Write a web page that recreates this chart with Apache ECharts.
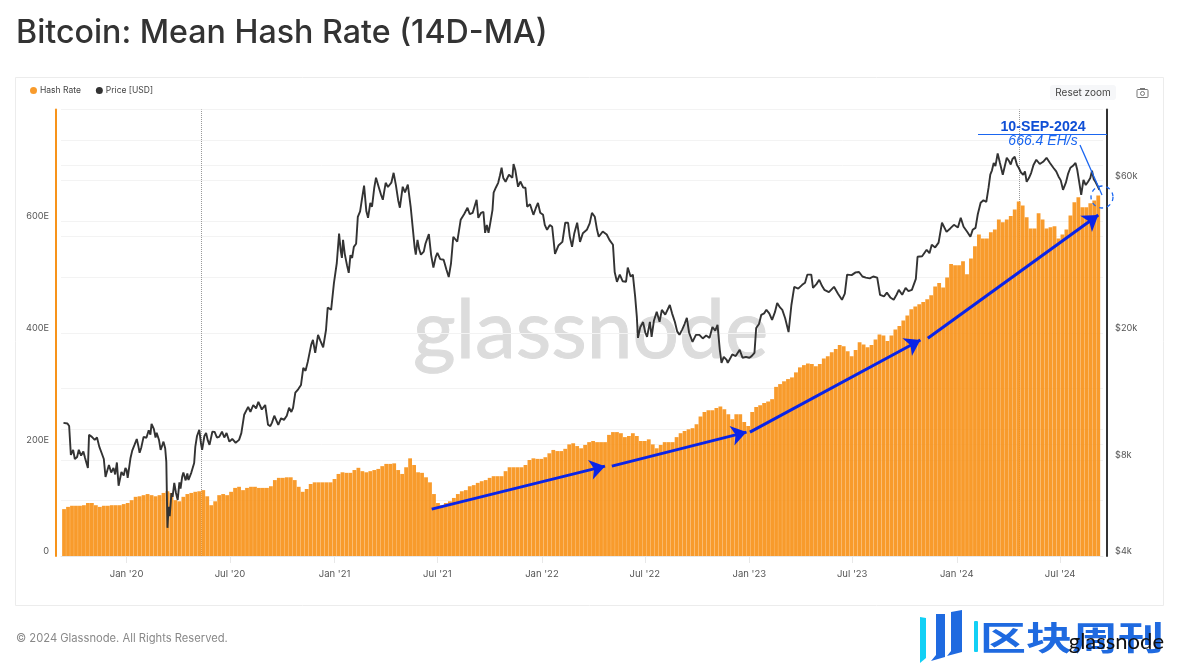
<!DOCTYPE html>
<html>
<head>
<meta charset="utf-8">
<title>Bitcoin: Mean Hash Rate (14D-MA)</title>
<script src="https://cdn.jsdelivr.net/npm/echarts@6/dist/echarts.min.js"></script>
<style>
  html, body { margin: 0; padding: 0; background: #fff; }
  #chart { width: 1189px; height: 669px; }
</style>
</head>
<body>
<div id="chart"></div>
<script>
const rangeStart = '2019-09-11'
const rangeEnd = '2024-09-11'

// weekly hash rate in EH/s, first bar on hashStart
const hashStart = '2019-09-13'
const hashRate = [
  84, 88, 90, 90, 90, 91, 95, 95, 91, 88, 90, 90, 91, 91, 91, 93, 95, 100, 106, 107,
  109, 111, 109, 107, 109, 113, 116, 113, 100, 98, 106, 111, 113, 115, 116, 118, 107, 91, 98, 109,
  111, 109, 115, 122, 124, 118, 122, 124, 124, 122, 122, 122, 125, 136, 140, 140, 141, 141, 136, 124,
  115, 120, 129, 132, 132, 132, 132, 132, 138, 147, 150, 149, 149, 154, 158, 152, 150, 152, 154, 156,
  161, 165, 165, 166, 154, 147, 159, 175, 163, 150, 149, 141, 132, 111, 95, 91, 95, 98, 104, 111,
  116, 118, 125, 127, 131, 134, 136, 140, 143, 143, 143, 152, 159, 159, 159, 159, 163, 172, 175, 174,
  174, 177, 184, 190, 188, 188, 192, 200, 202, 197, 193, 199, 204, 206, 204, 204, 204, 217, 222, 222,
  220, 213, 215, 220, 215, 206, 206, 209, 200, 193, 199, 204, 204, 204, 213, 220, 224, 227, 229, 236,
  250, 258, 261, 261, 265, 268, 263, 254, 245, 254, 254, 240, 233, 258, 267, 270, 274, 277, 281, 303,
  308, 313, 317, 320, 329, 338, 342, 345, 344, 340, 344, 354, 358, 365, 371, 378, 376, 367, 358, 369,
  383, 379, 374, 378, 388, 397, 395, 385, 395, 406, 412, 422, 431, 442, 447, 451, 455, 460, 467, 483,
  489, 481, 499, 523, 521, 521, 528, 505, 533, 555, 576, 569, 569, 580, 585, 603, 598, 603, 609, 621,
  635, 628, 607, 587, 587, 614, 603, 587, 589, 591, 569, 576, 585, 610, 634, 643, 625, 625, 632, 637,
  646
]

// price readings: [days since rangeStart, USD]
const pricePoints = [
  [1, 10440], [8, 10400], [11, 10210], [14, 8290], [18, 8600], [21, 8050], [25, 8170], [28, 8600], [32, 8250], [36, 8500],
  [39, 8110], [44, 7550], [46, 9580], [51, 9440], [56, 9240], [60, 9400], [64, 8800], [68, 8420], [72, 8050], [75, 7070],
  [78, 7400], [81, 7710], [85, 7300], [89, 7550], [92, 7200], [95, 7850], [98, 6640], [103, 7330], [107, 7150], [110, 7550],
  [112, 7440], [114, 7020], [119, 8110], [122, 8550], [126, 8910], [130, 9300], [133, 8800], [135, 8420], [138, 8750], [142, 9440],
  [147, 9380], [151, 9900], [154, 9600], [156, 10370], [160, 10000], [163, 9400], [165, 9720], [169, 9250], [172, 8600], [175, 8900],
  [177, 9120], [180, 8700], [182, 7880], [184, 4900], [186, 5700], [188, 5330], [191, 6300], [193, 6130], [196, 6780], [199, 6300],
  [202, 5990], [205, 6800], [207, 6500], [210, 7100], [212, 7300], [216, 6900], [219, 7250], [221, 6920], [226, 7300], [231, 7820],
  [233, 8780], [236, 9500], [240, 9930], [243, 9000], [245, 8600], [249, 9500], [252, 9710], [255, 9200], [258, 8910], [263, 9800],
  [267, 9790], [271, 9400], [275, 9440], [280, 9800], [284, 9400], [288, 9710], [293, 9120], [298, 9300], [304, 9050], [310, 9240],
  [314, 9700], [319, 11070], [322, 11000], [326, 11720], [330, 11300], [335, 11880], [340, 11600], [344, 12150], [350, 11500], [356, 11880],
  [361, 10300], [365, 10200], [368, 10460], [372, 11000], [375, 11070], [379, 10300], [384, 10800], [389, 10670], [394, 11000], [398, 11640],
  [402, 11300], [405, 11640], [409, 12980], [414, 13300], [419, 13730], [423, 15530], [427, 15200], [431, 16240], [437, 18360], [440, 19000],
  [444, 17300], [449, 19700], [453, 18900], [458, 18000], [463, 20400], [466, 24000], [472, 23600], [477, 28650], [482, 33070], [486, 40900],
  [489, 36000], [491, 34300], [493, 39090], [496, 35330], [500, 32500], [503, 30800], [506, 35000], [509, 34300], [512, 37160], [516, 38000],
  [519, 46150], [523, 48000], [526, 52000], [530, 57730], [534, 48000], [537, 45800], [541, 51000], [544, 49600], [548, 57000], [551, 61170],
  [556, 57000], [560, 54000], [563, 52160], [568, 58950], [572, 57200], [575, 56870], [578, 59000], [582, 63350], [586, 58000], [590, 52000],
  [593, 49250], [598, 57300], [602, 55000], [607, 58150], [612, 49600], [616, 42000], [619, 37000], [621, 35100], [624, 39090], [627, 36500],
  [630, 35100], [635, 35900], [638, 38000], [644, 40700], [648, 35000], [652, 32000], [656, 34500], [659, 35600], [664, 34000], [670, 33840],
  [675, 31500], [679, 29900], [683, 33000], [687, 39950], [694, 38550], [700, 45160], [706, 47000], [712, 49250], [716, 47000], [721, 47450],
  [728, 52160], [731, 45800], [736, 47500], [740, 47850], [743, 41100], [746, 43500], [749, 41100], [752, 44000], [756, 48530], [758, 54900],
  [762, 57000], [766, 58950], [769, 62000], [772, 65700], [775, 61000], [779, 59400], [785, 62500], [791, 61170], [793, 67500], [796, 64760],
  [801, 57300], [805, 59500], [810, 57000], [814, 56870], [817, 49600], [822, 50500], [828, 46800], [832, 49000], [836, 51000], [840, 47500],
  [845, 46800], [848, 43500], [852, 42000], [857, 43500], [861, 42950], [866, 35330], [872, 37500], [879, 38500], [884, 44200], [889, 44200],
  [892, 40000], [896, 37160], [900, 41000], [905, 44200], [910, 38500], [915, 41000], [922, 42010], [927, 44000], [931, 47450], [936, 46150],
  [940, 42000], [943, 39950], [950, 41500], [957, 40600], [962, 39000], [968, 37700], [971, 31000], [975, 28880], [980, 30400], [985, 29000],
  [991, 28880], [994, 32000], [999, 30000], [1003, 30400], [1007, 26000], [1010, 22430], [1012, 19280], [1016, 20800], [1021, 21600], [1025, 20000],
  [1028, 19420], [1033, 21640], [1036, 19420], [1040, 21800], [1045, 23250], [1050, 21640], [1054, 23590], [1060, 22800], [1068, 24430], [1072, 23000],
  [1077, 21600], [1081, 20200], [1085, 19700], [1090, 20500], [1094, 21300], [1098, 22270], [1102, 20000], [1108, 18730], [1114, 19700], [1120, 19700],
  [1126, 19200], [1132, 19600], [1138, 19280], [1143, 20850], [1148, 20300], [1152, 21170], [1156, 17680], [1159, 16100], [1163, 16800], [1168, 16450],
  [1170, 16100], [1178, 17100], [1184, 16900], [1191, 17680], [1196, 16700], [1202, 16800], [1208, 16700], [1212, 16900], [1217, 17300], [1220, 20700],
  [1225, 21300], [1229, 22760], [1234, 23000], [1238, 23590], [1243, 23000], [1248, 21950], [1253, 23200], [1257, 24800], [1262, 24000], [1266, 23590],
  [1271, 22200], [1277, 20100], [1282, 24430], [1287, 27850], [1294, 27500], [1301, 28250], [1306, 28700], [1310, 30400], [1317, 30400], [1320, 27650],
  [1326, 28400], [1331, 29300], [1336, 28000], [1340, 27250], [1348, 26800], [1357, 27850], [1364, 26500], [1371, 25360], [1376, 26500], [1380, 30400],
  [1388, 30300], [1395, 30900], [1401, 31000], [1407, 30000], [1413, 29750], [1420, 29600], [1426, 30000], [1433, 29750], [1438, 26300], [1445, 26000],
  [1450, 26700], [1456, 25800], [1462, 25360], [1467, 26300], [1471, 27250], [1477, 26300], [1483, 27650], [1488, 27000], [1494, 27250], [1501, 29500],
  [1504, 34600], [1512, 34700], [1520, 36370], [1525, 35500], [1529, 37700], [1535, 37000], [1541, 38300], [1547, 44200], [1555, 41400], [1562, 42500],
  [1568, 43550], [1575, 42700], [1580, 45800], [1585, 42950], [1591, 41500], [1597, 39950], [1601, 42000], [1606, 42600], [1610, 47000], [1615, 51050],
  [1620, 52000], [1625, 51400], [1629, 57000], [1632, 62500], [1635, 64500], [1638, 68000], [1641, 66500], [1645, 72900], [1649, 68000], [1654, 62500],
  [1658, 67000], [1661, 70600], [1665, 69000], [1668, 67250], [1671, 70000], [1675, 71100], [1679, 67000], [1682, 65700], [1686, 63500], [1690, 62500],
  [1693, 64000], [1696, 59400], [1700, 61000], [1704, 63350], [1708, 67000], [1713, 69600], [1719, 67500], [1725, 68600], [1731, 70600], [1737, 68000],
  [1743, 65700], [1748, 64000], [1752, 61700], [1756, 60000], [1760, 56060], [1765, 59000], [1769, 63000], [1773, 65700], [1777, 66500], [1782, 68000],
  [1785, 64760], [1788, 60000], [1792, 54050], [1796, 60250], [1800, 58000], [1804, 59400], [1808, 61000], [1811, 64300], [1814, 60500], [1817, 59400],
  [1821, 57500], [1824, 56060]
]

const xTickDates = ['2020-01-01', '2020-07-01', '2021-01-01', '2021-07-01', '2022-01-01', '2022-07-01', '2023-01-01', '2023-07-01', '2024-01-01', '2024-07-01']
const hashTicks = [0, 200, 400, 600]
const priceTicks = [4000, 8000, 20000, 60000]
const priceGrid = [4000, 6000, 8000, 10000, 20000, 40000, 60000, 80000, 100000]
const halvings = ['2020-05-11', '2024-04-20']

// start date, start EH/s, end date, end EH/s
const arrows = [
  ['2021-06-21', 84, '2022-04-22', 161],
  ['2022-05-04', 161, '2022-12-27', 222],
  ['2023-01-02', 222, '2023-10-29', 387],
  ['2023-11-11', 390, '2024-09-06', 611],
]

const DAY = 86400000
const toTime = (s) => +new Date(s + 'T00:00:00Z')
const hashData = hashRate.map((v, i) => [toTime(hashStart) + i * 7 * DAY, v])
const priceData = pricePoints.map((p) => [toTime(rangeStart) + p[0] * DAY, p[1]])
const xTicks = xTickDates.map(toTime)

const ORANGE = '#f7931a'
const DARK = '#333333'
const BLUE = '#1a66f0'
const gridLine = { show: true, lineStyle: { color: '#f3f3f3', width: 1 } }
const axisText = { color: '#555', fontSize: 9.2, fontFamily: 'Inter' }

const option = {
  animation: false,
  useUTC: true,
  backgroundColor: '#fff',
  textStyle: { fontFamily: 'Inter' },
  title: {
    text: 'Bitcoin: Mean Hash Rate (14D-MA)',
    left: 16,
    top: 17,
    padding: 0,
    textStyle: { fontFamily: 'Inter', fontSize: 32.2, fontWeight: 500, color: '#333' },
  },
  legend: {
    left: 30,
    top: 86,
    padding: 0,
    icon: 'circle',
    itemWidth: 7,
    itemHeight: 7,
    itemGap: 15,
    selectedMode: false,
    textStyle: { color: '#444', fontSize: 8.5, fontFamily: 'Inter', padding: [0, 0, 0, -2] },
    data: ['Hash Rate', 'Price [USD]'],
  },
  grid: { left: 61, right: 86, top: 109.5, bottom: 113 },
  xAxis: {
    type: 'time',
    min: toTime(rangeStart),
    max: toTime(rangeEnd),
    axisLine: { show: true, lineStyle: { color: '#e8e8e8' } },
    axisTick: { show: true, length: 7, lineStyle: { color: '#e8e8e8' }, customValues: xTicks },
    splitLine: { show: false },
    axisLabel: {
      ...axisText,
      fontSize: 9.5,
      margin: 13,
      customValues: xTicks,
      formatter: "{MMM} '{yy}",
    },
  },
  yAxis: [
    {
      type: 'value',
      position: 'left',
      offset: 5,
      min: 0,
      max: 800,
      interval: 100,
      axisLine: { show: true, lineStyle: { color: ORANGE, width: 2 } },
      axisTick: { show: false },
      splitLine: gridLine,
      axisLabel: {
        ...axisText,
        margin: 7,
        verticalAlign: 'bottom',
        customValues: hashTicks,
        formatter: (v) => (v === 0 ? '0' : v + 'E'),
      },
    },
    {
      type: 'log',
      position: 'right',
      offset: 4,
      min: 4000,
      max: 100000,
      axisLine: { show: true, lineStyle: { color: DARK, width: 2 } },
      axisTick: { show: false, customValues: priceGrid },
      splitLine: gridLine,
      axisLabel: {
        ...axisText,
        margin: 8,
        verticalAlign: 'bottom',
        customValues: priceTicks,
        formatter: (v) => '$' + Math.round(v / 1000) + 'k',
      },
    },
  ],
  series: [
    {
      name: 'Hash Rate',
      type: 'bar',
      yAxisIndex: 0,
      z: 2,
      barWidth: 3.8,
      itemStyle: { color: ORANGE, opacity: 0.92 },
      data: hashData,
      markLine: {
        silent: true,
        z: 6,
        symbol: ['none', 'arrow'],
        symbolSize: 15,
        label: { show: false },
        lineStyle: { color: '#0a24e8', width: 3, type: 'solid' },
        data: arrows.map((a) => [
          { coord: [toTime(a[0]), a[1]] },
          { coord: [toTime(a[2]), a[3]] },
        ]),
      },
    },
    {
      name: 'Price [USD]',
      type: 'line',
      yAxisIndex: 1,
      z: 3,
      symbol: 'none',
      lineStyle: { color: DARK, width: 1.9 },
      itemStyle: { color: DARK },
      data: priceData,
      markLine: {
        silent: true,
        z: 1,
        symbol: 'none',
        label: { show: false },
        lineStyle: { color: '#999', width: 1, type: 'dotted' },
        data: halvings.map((d) => ({ xAxis: toTime(d) })),
      },
    },
  ],
  graphic: [
    // card border
    { type: 'rect', z: -20, silent: true, shape: { x: 15.5, y: 77.5, width: 1148, height: 528 }, style: { fill: 'none', stroke: '#ececec' } },
    // watermark
    { type: 'text', z: -10, silent: true, x: 413, y: 291, style: { text: 'glassnode', font: '400 82px Lato', fill: '#dcdcdc', stroke: '#dcdcdc', lineWidth: 1 } },
    // zoom button and camera
    { type: 'rect', silent: true, shape: { x: 1050, y: 85, width: 66, height: 15, r: 3 }, style: { fill: '#f6f7f9' } },
    { type: 'text', silent: true, x: 1083, y: 92.5, style: { text: 'Reset zoom', font: '10px Inter', fill: '#444', align: 'center', verticalAlign: 'middle' } },
    { type: 'rect', silent: true, shape: { x: 1137, y: 89.5, width: 11, height: 8, r: 1 }, style: { fill: 'none', stroke: '#777' } },
    { type: 'circle', silent: true, shape: { cx: 1142.5, cy: 93.5, r: 2 }, style: { fill: 'none', stroke: '#777' } },
    { type: 'rect', silent: true, shape: { x: 1140, y: 88, width: 5, height: 1.5 }, style: { fill: '#777' } },
    // date call-out
    { type: 'text', z: 20, silent: true, x: 1043, y: 127, style: { text: '10-SEP-2024', font: 'bold 14.2px "Liberation Sans"', fill: '#0f4fd6', align: 'center', verticalAlign: 'middle' } },
    { type: 'line', z: 20, silent: true, shape: { x1: 978, y1: 134.5, x2: 1107, y2: 134.5 }, style: { stroke: BLUE, lineWidth: 1 } },
    { type: 'text', z: 20, silent: true, x: 1043, y: 141.5, style: { text: '666.4 EH/s', font: 'italic 14px "Liberation Sans"', fill: BLUE, align: 'center', verticalAlign: 'middle' } },
    { type: 'line', z: 20, silent: true, shape: { x1: 1080, y1: 145, x2: 1102, y2: 195 }, style: { stroke: BLUE, lineWidth: 1.3 } },
    { type: 'circle', z: 20, silent: true, shape: { cx: 1102, cy: 197, r: 11 }, style: { fill: 'none', stroke: BLUE, lineWidth: 1.3, lineDash: [4, 4] } },
    // footer
    { type: 'text', silent: true, x: 16, y: 639, style: { text: '© 2024 Glassnode. All Rights Reserved.', font: '11.2px Inter', fill: '#888', verticalAlign: 'middle' } },
    // publisher mark
    { type: 'polygon', silent: true, shape: { points: [[920, 617], [926, 618], [926, 658], [920, 663]] }, style: { fill: '#12d0f5' } },
    { type: 'polygon', silent: true, shape: { points: [[936, 614], [945, 614], [945, 657], [931, 661], [936, 655]] }, style: { fill: '#1f6ae0' } },
    { type: 'polygon', silent: true, shape: { points: [[951, 612], [962, 610], [962, 652], [947, 656], [951, 651]] }, style: { fill: '#1f6ae0' } },
    { type: 'rect', silent: true, shape: { x: 974, y: 621, width: 4, height: 31, r: 1 }, style: { fill: '#12d0f5' } },
    { type: 'text', silent: true, x: 980, y: 637, scaleY: 0.72, style: { text: '区块周刊', font: 'bold 46px "Noto Sans CJK SC"', fill: '#1f6ae0', verticalAlign: 'middle' } },
    { type: 'text', z: 20, silent: true, x: 1164, y: 642, style: { text: 'glassnode', font: '22px Lato', fill: '#111', align: 'right', verticalAlign: 'middle' } },
  ],
}

const myChart = echarts.init(document.getElementById('chart'))
myChart.setOption(option)
</script>
</body>
</html>
